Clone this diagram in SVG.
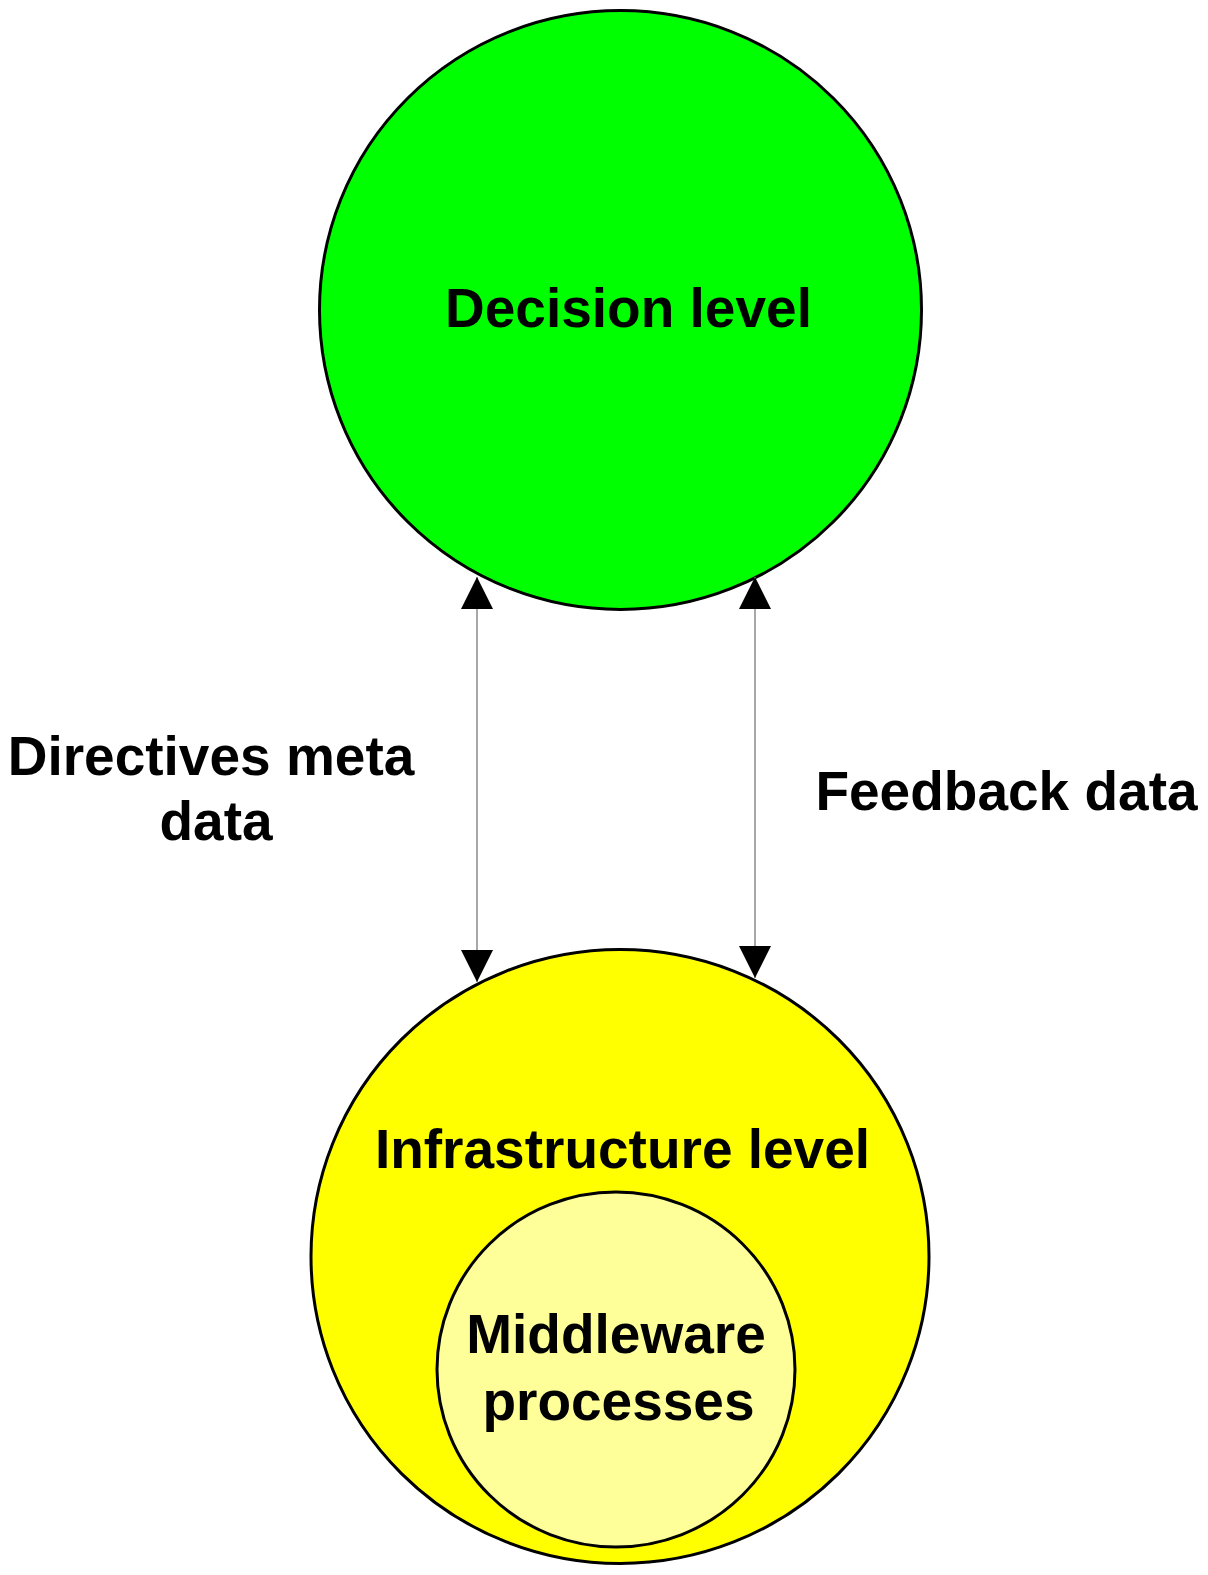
<svg xmlns="http://www.w3.org/2000/svg" width="1208" height="1575" viewBox="0 0 1208 1575">
<style>
.lbl{font-family:"Liberation Sans",Arial,sans-serif;font-weight:bold;font-size:55px;fill:#000;text-anchor:middle}
.node{stroke:#000;stroke-width:3}
.conn{stroke:#8a8a8a;stroke-width:1.5;fill:none}
</style>
<defs>
<marker id="ah" markerUnits="userSpaceOnUse" markerWidth="32" markerHeight="32" refX="32" refY="16" orient="auto-start-reverse" viewBox="0 0 32 32">
<path d="M0,0 L32,16 L0,32 z" fill="#000"/>
</marker>
</defs>
<rect width="1208" height="1575" fill="#fff"/>
<g id="decision">
<ellipse class="node" cx="620.5" cy="310" rx="301" ry="299.5" fill="#00ff00"/>
<text class="lbl" x="628.5" y="327">Decision level</text>
</g>
<g id="infrastructure">
<ellipse class="node" cx="620" cy="1256.5" rx="309" ry="307" fill="#ffff00"/>
<text class="lbl" x="622.5" y="1168">Infrastructure level</text>
</g>
<g id="middleware">
<ellipse class="node" cx="616" cy="1369.5" rx="179" ry="177.5" fill="#ffff99"/>
<text class="lbl" x="616" y="1353">Middleware</text>
<text class="lbl" x="618.5" y="1420">processes</text>
</g>
<g id="label-directives">
<text class="lbl" x="211" y="775">Directives meta</text>
<text class="lbl" x="216" y="840">data</text>
</g>
<g id="label-feedback">
<text class="lbl" x="1006.5" y="810">Feedback data</text>
</g>
<g id="connectors">
<line class="conn" x1="477" y1="577" x2="477" y2="982" marker-start="url(#ah)" marker-end="url(#ah)"/>
<line class="conn" x1="755" y1="577" x2="755" y2="978" marker-start="url(#ah)" marker-end="url(#ah)"/>
</g>
</svg>
